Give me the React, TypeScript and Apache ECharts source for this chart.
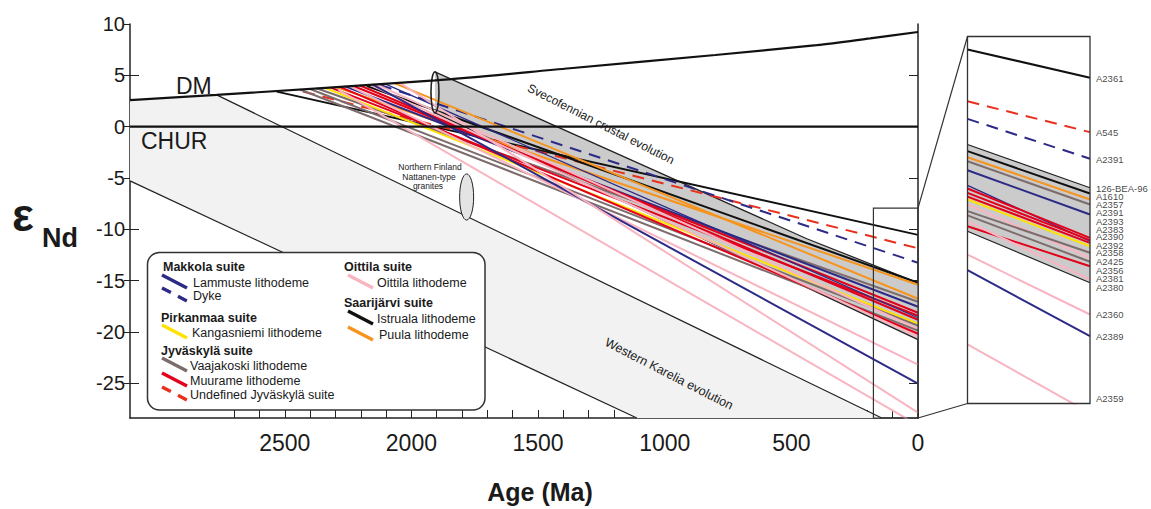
import React, { useEffect, useRef } from "react";
import * as echarts from "echarts";

const F = "'Liberation Sans', Arial, Helvetica, sans-serif";

// ---------- axes ----------
const AGE_MAX = 3111;
const EPS_MIN = -28.4;
const EPS_MAX = 10;
const ageTicks = [0, 100, 200, 300, 400, 500, 600, 700, 800, 900, 1000, 1100, 1200, 1300, 1400, 1500, 1600, 1700, 1800, 1900, 2000, 2100, 2200, 2300, 2400, 2500, 2600, 2700];
const ageLabels = [0, 500, 1000, 1500, 2000, 2500];
const epsLabels = [-25, -20, -15, -10, -5, 0, 5, 10];
const epsInnerTicks = [-25, -20, -15, -10, -5, 0, 5];

// ---------- reference curves [age Ma, εNd] ----------
const dmCurve: [number, number][] = [[3111, 2.59], [2769, 3.09], [1907, 4.5], [1374, 5.69], [800, 6.98], [400, 7.94], [189, 8.6], [0, 9.22]];
const churLine: [number, number][] = [[3111, 0], [0, 0]];
const kareliaUpper: [number, number][] = [[2769, 3.09], [143, -28.4]];
const kareliaLower: [number, number][] = [[3111, -5.29], [1110, -28.4]];
const svecoUpper: [number, number][] = [[1907, 5.33], [439, -10.93], [0, -15.22]];
const svecoLower: [number, number][] = [[1907, 1.33], [0, -20.77]];
const svecoLens = [1907, 5.33, 1.33]; // age, top ε, bottom ε
const nattanenField = [1782, -4.61, -9.11];
const zoomWindow = { ageFrom: 176, ageTo: 0, epsTop: -7.95, epsBottom: -28.4 };

// ---------- sample evolution lines: [kind, T_DM age, ε at T_DM, ε today] ----------
const mainLines: [string, number, number, number][] = [
  ["istruala", 2532, 3.41, -10.55],
  ["undef", 2428, 3.41, -11.86],
  ["dyke", 2124, 4.06, -13.27],
  ["istruala", 2176, 3.96, -15.22],
  ["puula", 2295, 3.84, -15.41],
  ["puula", 2065, 4.21, -16.78],
  ["vaajakoski", 2374, 3.74, -17.07],
  ["lammuste", 2262, 3.92, -17.56],
  ["muurame", 2229, 3.96, -18.14],
  ["muurame", 2321, 3.82, -18.43],
  ["lammusteThin", 2104, 4.16, -18.63],
  ["muurame", 2203, 4.01, -18.82],
  ["kangasniemi", 2341, 3.77, -19.21],
  ["vaajakoski", 2400, 3.67, -19.4],
  ["oittila", 2139, 4.11, -19.7],
  ["vaajakoski", 2440, 3.62, -19.89],
  ["muurame", 2282, 3.87, -20.19],
  ["oittila", 2163, 4.06, -20.48],
  ["oittila", 2246, 3.96, -23.2],
  ["lammuste", 2154, 4.11, -25.05],
  ["oittila", 2045, 4.25, -27.88],
  ["oittila", 2288, 3.59, -29.1],
];

// ---------- inset (0–176 Ma): [kind, ε at 176 Ma, ε today] ----------
const insetBandTop: [number, number] = [-13.97, -16.38];
const insetBandBottom: [number, number] = [-18.8, -21.67];
const insetLines: [string, number, number][] = [
  ["istruala", -8.67, -10.25],
  ["undef", -11.56, -13.28],
  ["dyke", -12.54, -14.76],
  ["istruala", -14.34, -16.7],
  ["puula", -14.68, -17.03],
  ["vaajakoski", -14.9, -17.31],
  ["lammuste", -15.4, -17.87],
  ["lammusteThin", -16.25, -19.36],
  ["muurame", -16.42, -19.17],
  ["muurame", -16.66, -19.3],
  ["muurame", -16.87, -19.45],
  ["kangasniemi", -17.03, -19.64],
  ["oittila", -17.31, -20.28],
  ["vaajakoski", -17.68, -20.0],
  ["vaajakoski", -17.92, -20.5],
  ["muurame", -18.52, -20.75],
  ["oittila", -18.26, -21.49],
  ["oittila", -20.1, -23.44],
  ["lammuste", -20.97, -24.65],
  ["oittila", -25.11, -28.93],
];
const insetLabelNames = ["A2361", "A545", "A2391", "126-BEA-96", "A1610", "A2357", "A2391", "A2393", "A2383", "A2390", "A2392", "A2358", "A2425", "A2356", "A2381", "A2380", "A2360", "A2389", "A2359"];
const insetLabelEps = [-10.31, -13.32, -14.8, -16.44, -16.85, -17.31, -17.76, -18.24, -18.7, -19.11, -19.58, -20.0, -20.5, -20.99, -21.43, -21.95, -23.44, -24.65, -28.14];

// ---------- legend ----------
const legendSuites = ["Makkola suite", "Pirkanmaa suite", "Jyväskylä suite", "Oittila suite", "Saarijärvi suite"];
const legendItems: [string, string][] = [
  ["lammuste", "Lammuste lithodeme"],
  ["dyke", "Dyke"],
  ["kangasniemi", "Kangasniemi lithodeme"],
  ["vaajakoski", "Vaajakoski lithodeme"],
  ["muurame", "Muurame lithodeme"],
  ["undef", "Undefined Jyväskylä suite"],
  ["oittila", "Oittila lithodeme"],
  ["istruala", "Istruala lithodeme"],
  ["puula", "Puula lithodeme"],
];

const kindStyle: Record<string, { color: string; dashed?: boolean; width?: number }> = {
  lammuste: { color: "#2d2a86" },
  lammusteThin: { color: "#2d2a86", width: 1.3 },
  dyke: { color: "#2d2a86", dashed: true },
  kangasniemi: { color: "#ffe100" },
  vaajakoski: { color: "#7d6c6c" },
  muurame: { color: "#e2001a" },
  undef: { color: "#e8301c", dashed: true },
  oittila: { color: "#f8b4c0" },
  istruala: { color: "#111111" },
  puula: { color: "#f7941d" },
};

function lineSeries(data: number[][], color: string, width: number, dashed: boolean, xi: number, yi: number, z = 3, smooth: any = false) {
  return {
    type: "line",
    xAxisIndex: xi,
    yAxisIndex: yi,
    data,
    symbol: "none",
    showSymbol: false,
    silent: true,
    smooth,
    z,
    clip: true,
    lineStyle: { color, width, type: dashed ? [12, 8] : "solid", cap: "butt" },
  };
}

function polygonSeries(points: number[][], fill: string, xi: number, yi: number, z: number) {
  return {
    type: "custom",
    xAxisIndex: xi,
    yAxisIndex: yi,
    z,
    silent: true,
    clip: true,
    data: [[0, 0]],
    renderItem: (_p: any, api: any) => ({
      type: "polygon",
      shape: { points: points.map((p) => api.coord(p)) },
      style: { fill, stroke: "none" },
    }),
  };
}

function ellipseSeries(field: number[], rx: number, fill: string, lw: number, z: number) {
  return {
    type: "custom",
    xAxisIndex: 0,
    yAxisIndex: 0,
    z,
    silent: true,
    data: [[0, 0]],
    renderItem: (_p: any, api: any) => {
      const top = api.coord([field[0], field[1]]);
      const bot = api.coord([field[0], field[2]]);
      return {
        type: "ellipse",
        shape: { cx: top[0], cy: (top[1] + bot[1]) / 2, rx, ry: (bot[1] - top[1]) / 2 },
        style: { fill, stroke: "#222", lineWidth: lw },
      };
    },
  };
}

function buildOption() {
  const series: any[] = [];
  series.push(polygonSeries([dmCurve[0], ...kareliaUpper, ...kareliaLower.slice().reverse()], "#f2f2f2", 0, 0, 1));
  series.push(polygonSeries([...svecoUpper, ...svecoLower.slice().reverse()], "#cbcbcb", 0, 0, 1));
  series.push(lineSeries(kareliaUpper, "#222", 1.2, false, 0, 0, 2));
  series.push(lineSeries(kareliaLower, "#222", 1.2, false, 0, 0, 2));
  series.push(lineSeries(svecoUpper, "#222", 1.3, false, 0, 0, 2));
  series.push(lineSeries(svecoLower, "#222", 1.3, false, 0, 0, 2));
  series.push(ellipseSeries(svecoLens, 4, "none", 1.6, 4));
  series.push(ellipseSeries(nattanenField, 7, "#e4e4e4", 1, 4));
  mainLines.forEach(([k, a, e0, e1]) => {
    const s = kindStyle[k];
    series.push(lineSeries([[a, e0], [0, e1]], s.color, s.width ?? 2, !!s.dashed, 0, 0, 3));
  });
  series.push(lineSeries(dmCurve, "#111", 2.2, false, 0, 0, 5, 0.3));
  series.push(lineSeries(churLine, "#111", 2.2, false, 0, 0, 5));
  series.push({
    type: "custom",
    xAxisIndex: 0,
    yAxisIndex: 0,
    z: 6,
    silent: true,
    data: [[0, 0]],
    renderItem: (_p: any, api: any) => {
      const a = api.coord([zoomWindow.ageFrom, zoomWindow.epsTop]);
      const b = api.coord([zoomWindow.ageTo, zoomWindow.epsBottom]);
      return { type: "rect", shape: { x: a[0], y: a[1], width: b[0] - a[0], height: b[1] - a[1] }, style: { fill: "none", stroke: "#333", lineWidth: 1.2 } };
    },
  });
  const iA = zoomWindow.ageFrom;
  series.push(polygonSeries([[iA, insetBandTop[0]], [0, insetBandTop[1]], [0, insetBandBottom[1]], [iA, insetBandBottom[0]]], "#cbcbcb", 1, 3, 1));
  series.push(lineSeries([[iA, insetBandTop[0]], [0, insetBandTop[1]]], "#222", 1.2, false, 1, 3, 2));
  series.push(lineSeries([[iA, insetBandBottom[0]], [0, insetBandBottom[1]]], "#222", 1.2, false, 1, 3, 2));
  insetLines.forEach(([k, e0, e1]) => {
    const s = kindStyle[k];
    series.push(lineSeries([[iA, e0], [0, e1]], s.color, s.width ?? 2, !!s.dashed, 1, 3, 3));
  });
  series.push({
    type: "scatter",
    xAxisIndex: 1,
    yAxisIndex: 3,
    symbolSize: 0,
    silent: true,
    clip: false,
    z: 7,
    data: insetLabelNames.map((n, i) => ({ name: n, value: [0, insetLabelEps[i]] })),
    label: { show: true, position: "right", distance: 6, formatter: "{b}", fontSize: 9.5, lineHeight: 8, color: "#111", fontFamily: F },
  });

  const axisLine = { show: true, onZero: false, lineStyle: { color: "#222", width: 1.5 } };
  return {
    animation: false,
    backgroundColor: "#fff",
    grid: [
      { left: 130, top: 24, width: 788, height: 394 },
      { left: 967.5, top: 36.5, width: 122.5, height: 367, show: true, borderColor: "#333", borderWidth: 1.3, backgroundColor: "transparent", z: 8 },
    ],
    xAxis: [
      {
        gridIndex: 0, type: "value", inverse: true, min: 0, max: AGE_MAX,
        axisLine,
        axisTick: { show: true, inside: true, length: 8, customValues: ageTicks, lineStyle: { color: "#222", width: 1 } },
        axisLabel: { customValues: ageLabels, fontSize: 23, color: "#1a1a1a", margin: 13, fontFamily: F, formatter: (v: number) => String(v) },
        splitLine: { show: false },
      },
      { gridIndex: 1, type: "value", inverse: true, min: 0, max: zoomWindow.ageFrom, show: false },
    ],
    yAxis: [
      {
        gridIndex: 0, type: "value", min: EPS_MIN, max: EPS_MAX,
        axisLine,
        axisTick: { show: true, inside: false, length: 6, customValues: epsLabels, lineStyle: { color: "#222", width: 1 } },
        axisLabel: { customValues: epsLabels, fontSize: 20, color: "#1a1a1a", margin: 5, fontFamily: F, formatter: (v: number) => String(v) },
        splitLine: { show: false },
      },
      {
        gridIndex: 0, type: "value", min: EPS_MIN, max: EPS_MAX, position: "left",
        axisLine: { show: false, onZero: false },
        axisTick: { show: true, inside: true, length: 9, customValues: epsInnerTicks, lineStyle: { color: "#222", width: 1 } },
        axisLabel: { show: false },
        splitLine: { show: false },
      },
      {
        gridIndex: 0, type: "value", min: EPS_MIN, max: EPS_MAX, position: "right",
        axisLine,
        axisTick: { show: true, inside: true, length: 9, customValues: epsInnerTicks, lineStyle: { color: "#222", width: 1 } },
        axisLabel: { show: false },
        splitLine: { show: false },
      },
      { gridIndex: 1, type: "value", min: zoomWindow.epsBottom, max: zoomWindow.epsTop, show: false },
    ],
    series,
  };
}

function txt(text: string, x: number, y: number, size: number, opts: any = {}) {
  return {
    type: "text",
    x,
    y,
    rotation: opts.rotation ?? 0,
    z: 20,
    silent: true,
    style: {
      text,
      fontSize: size,
      fontFamily: F,
      fontWeight: opts.bold ? "bold" : "normal",
      fill: opts.color ?? "#1a1a1a",
      align: opts.align ?? "left",
      verticalAlign: opts.valign ?? "middle",
    },
  };
}

function buildGraphic(chart: any) {
  const g: any[] = [];
  const m1 = chart.convertToPixel({ xAxisIndex: 0, yAxisIndex: 0 }, [zoomWindow.ageTo, zoomWindow.epsTop]);
  const m2 = chart.convertToPixel({ xAxisIndex: 0, yAxisIndex: 0 }, [zoomWindow.ageTo, zoomWindow.epsBottom]);
  const i1 = chart.convertToPixel({ xAxisIndex: 1, yAxisIndex: 3 }, [zoomWindow.ageFrom, zoomWindow.epsTop]);
  const i2 = chart.convertToPixel({ xAxisIndex: 1, yAxisIndex: 3 }, [zoomWindow.ageFrom, zoomWindow.epsBottom]);
  g.push({ type: "line", z: 20, silent: true, shape: { x1: m1[0], y1: m1[1], x2: i1[0], y2: i1[1] }, style: { stroke: "#333", lineWidth: 1.2 } });
  g.push({ type: "line", z: 20, silent: true, shape: { x1: m2[0], y1: m2[1], x2: i2[0], y2: i2[1] }, style: { stroke: "#333", lineWidth: 1.2 } });

  g.push(txt("DM", 176, 86, 23));
  g.push(txt("CHUR", 141, 141, 23));
  g.push(txt("Svecofennian crustal evolution", 601, 124, 12, { rotation: -0.47, align: "center" }));
  g.push(txt("Western Karelia evolution", 669, 374, 12.5, { rotation: -0.475, align: "center" }));
  g.push(txt("Northern Finland", 430, 167, 8.5, { align: "center", color: "#222" }));
  g.push(txt("Nattanen-type", 429, 176.5, 8.5, { align: "center", color: "#222" }));
  g.push(txt("granites", 428, 186, 8.5, { align: "center", color: "#222" }));
  g.push(txt("ε", 12, 238, 46, { bold: true, valign: "bottom" }));
  g.push(txt("Nd", 42, 251, 27, { bold: true, valign: "bottom" }));
  g.push(txt("Age (Ma)", 540, 492, 25, { bold: true, align: "center" }));

  g.push({ type: "rect", z: 18, silent: true, shape: { x: 147.5, y: 252.5, width: 337.5, height: 157.5, r: 12 }, style: { fill: "#fff", stroke: "#333", lineWidth: 1.5 } });
  const suitePos: [number, number][] = [[163, 267], [161, 318], [161, 351], [344, 267], [344, 303]];
  legendSuites.forEach((s, i) => g.push(txt(s, suitePos[i][0], suitePos[i][1], 12.5, { bold: true })));
  const itemPos: [number, number, number][] = [
    [162, 275, 193], [162, 288, 193], [162, 325, 192], [162, 358, 190], [162, 373, 190], [162, 387, 190],
    [348, 275, 377], [348, 311, 377], [348, 327, 379],
  ];
  legendItems.forEach(([k, label], i) => {
    const [x, y, tx] = itemPos[i];
    const s = kindStyle[k];
    g.push({ type: "line", z: 19, silent: true, shape: { x1: x, y1: y, x2: x + 25, y2: y + 13 }, style: { stroke: s.color, lineWidth: 3.4, lineDash: s.dashed ? [10, 8] : null } });
    g.push(txt(label, tx, y + 8, 12.5));
  });
  return g;
}

export default function App() {
  const ref = useRef<HTMLDivElement>(null);
  useEffect(() => {
    const chart = echarts.init(ref.current!, null, { renderer: "svg" });
    chart.setOption(buildOption() as any);
    chart.setOption({ graphic: buildGraphic(chart) } as any);
    return () => chart.dispose();
  }, []);
  return <div ref={ref} style={{ position: "fixed", left: 0, top: 0, width: 1151, height: 509, background: "#fff" }} />;
}
